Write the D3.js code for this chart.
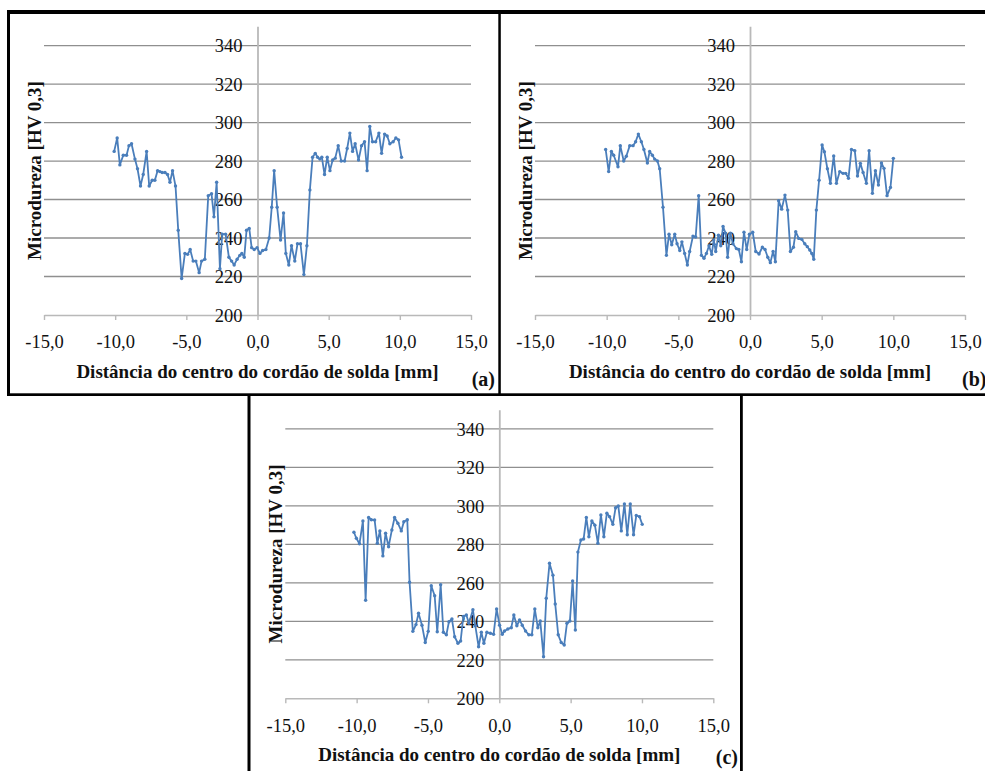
<!DOCTYPE html>
<html>
<head>
<meta charset="utf-8">
<script src="https://cdn.jsdelivr.net/npm/d3@7/dist/d3.min.js"></script>
<style>
  body { margin: 0; background: #fff; }
  svg { display: block; }
</style>
</head>
<body>
<svg id="chart" width="985" height="771"></svg>
<script>
// ---------- DATA ----------
const xTicks = [-15, -10, -5, 0, 5, 10, 15];
const yTicks = [200, 220, 240, 260, 280, 300, 320, 340];
const yGrid = [220, 240, 260, 280, 300, 320, 340];
const xTitle = "Distância do centro do cordão de solda [mm]";
const yTitle = "Microdureza [HV 0,3]";
const panelLabels = ["(a)", "(b)", "(c)"];

const xA = [-10.07,-9.86,-9.67,-9.43,-9.2,-9.03,-8.85,-8.61,-8.43,-8.22,-8.03,-7.79,-7.61,-7.4,-7.21,-7.02,-6.86,-6.7,-6.5,-6.32,-6.15,-5.97,-5.76,-5.57,-5.33,-5.1,-4.91,-4.73,-4.52,-4.33,-4.1,-3.93,-3.7,-3.46,-3.23,-3.06,-2.87,-2.64,-2.48,-2.24,-2.01,-1.82,-1.64,-1.43,-1.24,-1.1,-0.93,-0.77,-0.58,-0.41,-0.23,-0.03,0.17,0.36,0.59,0.82,1.0,1.17,1.38,1.62,1.83,1.99,2.2,2.39,2.62,2.81,3.02,3.26,3.47,3.68,3.87,4.06,4.22,4.38,4.52,4.71,4.9,5.09,5.28,5.46,5.67,5.88,6.12,6.3,6.49,6.68,6.86,7.1,7.31,7.52,7.7,7.89,8.08,8.3,8.53,8.72,8.93,9.11,9.3,9.53,9.72,9.91,10.12];
const yA = [285,292,278,283,283,288,289,281,276,267,273,285,267,270,270,275,274.5,274,274,273,269,275,267,244,219,232,231.5,234,228,228,222,228,229,262,263,251,269,224,242,242,230,228,226,229,231,232,230,244,245,235,234,235,232,233.5,234,240,256,275,256,239,253,232,226,236,228,237,237,221,236,265,282,284,282,281,282,273,282,275,280.5,281.5,288,280,280,286.5,294.5,285,289,280.5,288,290,275,298,290,290,294.5,284,294,293,289,290,292,291,282];

const xB = [-10.07,-9.86,-9.67,-9.51,-9.21,-9.05,-8.81,-8.63,-8.39,-8.16,-7.98,-7.79,-7.58,-7.4,-7.16,-7.0,-6.81,-6.65,-6.46,-6.3,-6.07,-5.83,-5.65,-5.46,-5.25,-5.09,-4.9,-4.75,-4.56,-4.37,-4.21,-3.98,-3.79,-3.58,-3.39,-3.21,-3.04,-2.86,-2.67,-2.53,-2.39,-2.2,-2.04,-1.88,-1.7,-1.56,-1.37,-1.19,-0.95,-0.78,-0.6,-0.42,-0.23,-0.04,0.19,0.4,0.63,0.86,1.05,1.24,1.42,1.61,1.77,2.0,2.21,2.44,2.63,2.82,3.03,3.19,3.4,3.61,3.82,4.0,4.17,4.31,4.45,4.63,4.82,5.03,5.19,5.4,5.61,5.84,6.03,6.26,6.49,6.68,6.87,7.08,7.31,7.5,7.7,7.89,8.12,8.31,8.54,8.75,8.96,9.17,9.35,9.56,9.8,10.0];
const yB = [286,274.5,285,283,277,288,280,282.5,288,288,290,294,290,286,279,285,283,281,280,276,256,231,242,236.5,242,237,233.5,238,232,226,233,241,240.5,262,231,229.5,232,236,231.5,239,233,241.5,236,246,242.5,230,242.5,237,234.5,234,227.7,243,234,242,243,233,231.7,235.2,234,230,227.2,233,227.7,259.4,255,262.3,254.5,233,235.2,243.3,239.8,239.3,237,235.5,233.8,232,229,254.5,270,288.3,284.8,276,268.4,282.6,268.4,274.5,273.6,273.6,271,286,285.4,272.2,278.8,274,268.4,285.4,263.2,275,267.5,279,276.2,262,266.3,281.4];

const xC = [-10.19,-10.02,-9.8,-9.56,-9.37,-9.16,-8.97,-8.74,-8.55,-8.37,-8.16,-7.97,-7.76,-7.53,-7.34,-7.11,-6.87,-6.69,-6.45,-6.29,-6.06,-5.84,-5.66,-5.42,-5.19,-4.98,-4.77,-4.53,-4.35,-4.11,-3.92,-3.71,-3.53,-3.32,-3.13,-2.9,-2.71,-2.52,-2.31,-2.13,-1.85,-1.68,-1.45,-1.26,-1.08,-0.87,-0.63,-0.4,-0.19,0.02,0.21,0.37,0.6,0.84,1.02,1.23,1.42,1.61,1.84,2.07,2.28,2.49,2.7,2.87,3.1,3.29,3.52,3.76,3.92,4.13,4.34,4.55,4.74,4.95,5.14,5.33,5.51,5.72,5.91,6.1,6.28,6.49,6.7,6.91,7.12,7.33,7.54,7.73,7.96,8.15,8.34,8.55,8.77,8.97,9.18,9.41,9.6,9.83,10.02];
const yC = [286.3,283.2,280.3,292.2,251,294,292.8,292.7,280.6,287,274,285.8,278.8,287.5,294,291,287,291.8,292.8,260.3,234.8,238.3,244.2,238,229,234.8,258.5,253.3,234.6,259,234.3,233,239.8,241.2,232,228.6,229.8,242.6,243.3,239,246,237.7,226.8,234.3,228.6,234.3,233.8,233.3,246.4,238,233.3,235,236,236.7,243.3,237.7,240.7,238,235,233,233,246.4,236.7,240.2,221.6,252,270.2,264,249,233,229,227.7,239,240.2,261,235.5,276,282.3,282.8,294,284,292.2,290,280.6,295.3,284,296.2,294.4,290.4,299,300,287,301,285,301,285,295,294.4,290.4];

// ---------- LAYOUT ----------
const panels = [
  { x0: 44,    x1: 471,   yb: 315,   yt: 26.3,  lx: 495, ly: 71, la: "end",   xs: xA, ys: yA, label: panelLabels[0] },
  { x0: 535,   x1: 965,   yb: 315,   yt: 26.3,  lx: 962, ly: 71, la: "start", xs: xB, ys: yB, label: panelLabels[1] },
  { x0: 285.3, x1: 713.3, yb: 698.3, yt: 409.7, lx: 738, ly: 66, la: "end",   xs: xC, ys: yC, label: panelLabels[2] }
];

const svg = d3.select("#chart");
svg.append("rect").attr("width", 985).attr("height", 771).attr("fill", "#fff");

const loc = d3.formatLocale({ decimal: ",", thousands: ".", grouping: [3], currency: ["", ""], minus: "-" });
const fmtX = loc.format(".1f");

const SERIF = "'Liberation Serif', 'Times New Roman', 'DejaVu Serif', serif";
const LINE = "#4a7ebb";
const GRID = "#8f8f8f";
const AXIS = "#b9b9b9";

panels.forEach(p => {
  const x = d3.scaleLinear().domain([-15, 15]).range([p.x0, p.x1]);
  const y = d3.scaleLinear().domain([200, 350]).range([p.yb, p.yt]);
  const g = svg.append("g");

  // gridlines
  g.append("g").selectAll("line").data(yGrid).join("line")
    .attr("x1", x(-15)).attr("x2", x(15))
    .attr("y1", d => y(d)).attr("y2", d => y(d))
    .attr("stroke", GRID).attr("stroke-width", 1.3);

  // x axis (at y = 200)
  const gx = g.append("g").attr("transform", `translate(0,${y(200)})`)
    .call(d3.axisBottom(x).tickValues(xTicks).tickFormat(fmtX).tickSize(5).tickSizeOuter(0));
  gx.select(".domain").attr("stroke", AXIS).attr("stroke-width", 1.4);
  gx.selectAll(".tick line").attr("stroke", AXIS).attr("stroke-width", 1.4);
  gx.selectAll(".tick text").attr("y", 33.4).attr("dy", 0)
    .attr("font-family", SERIF).attr("font-size", 18.5).attr("fill", "#111");

  // y axis (at x = 0)
  const gy = g.append("g").attr("transform", `translate(${x(0)},0)`)
    .call(d3.axisLeft(y).tickValues(yTicks).tickFormat(d3.format("d")).tickSize(0).tickPadding(15).tickSizeOuter(0));
  gy.select(".domain").attr("stroke", AXIS).attr("stroke-width", 1.8);
  gy.selectAll(".tick text").attr("dy", "0.34em")
    .attr("font-family", SERIF).attr("font-size", 18.5).attr("fill", "#111");

  // series line
  const pts = p.xs.map((v, i) => [v, p.ys[i]]);
  g.append("path").datum(pts)
    .attr("fill", "none").attr("stroke", LINE).attr("stroke-width", 1.8)
    .attr("stroke-linejoin", "round")
    .attr("d", d3.line().x(d => x(d[0])).y(d => y(d[1])));
  g.append("g").selectAll("circle").data(pts).join("circle")
    .attr("cx", d => x(d[0])).attr("cy", d => y(d[1])).attr("r", 1.7)
    .attr("fill", LINE);

  // titles
  g.append("text").attr("x", x(0)).attr("y", y(200) + 63)
    .attr("text-anchor", "middle").attr("font-family", SERIF).attr("font-weight", "bold")
    .attr("font-size", 19).attr("fill", "#111").text(xTitle);
  const ty = y(340) + 125;
  g.append("text").attr("transform", `translate(${x(-15) - 10},${ty}) rotate(-90)`)
    .attr("text-anchor", "middle").attr("dy", "0.35em").attr("font-family", SERIF).attr("font-weight", "bold")
    .attr("font-size", 19).attr("fill", "#111").text(yTitle);

  g.append("text").attr("x", p.lx).attr("y", y(200) + p.ly)
    .attr("text-anchor", p.la).attr("font-family", SERIF).attr("font-weight", "bold")
    .attr("font-size", 20).attr("fill", "#111").text(p.label);
});

// table borders
const B = "#000";
svg.append("rect").attr("x", 7).attr("y", 10).attr("width", 978).attr("height", 4).attr("fill", B);
svg.append("rect").attr("x", 7).attr("y", 10).attr("width", 3).attr("height", 386).attr("fill", B);
svg.append("rect").attr("x", 498.3).attr("y", 10).attr("width", 2.5).attr("height", 386).attr("fill", B);
svg.append("rect").attr("x", 7).attr("y", 393.3).attr("width", 978).attr("height", 2.7).attr("fill", B);
svg.append("rect").attr("x", 247.5).attr("y", 394).attr("width", 3).attr("height", 377).attr("fill", B);
svg.append("rect").attr("x", 740).attr("y", 394).attr("width", 2.8).attr("height", 377).attr("fill", B);
</script>
</body>
</html>
